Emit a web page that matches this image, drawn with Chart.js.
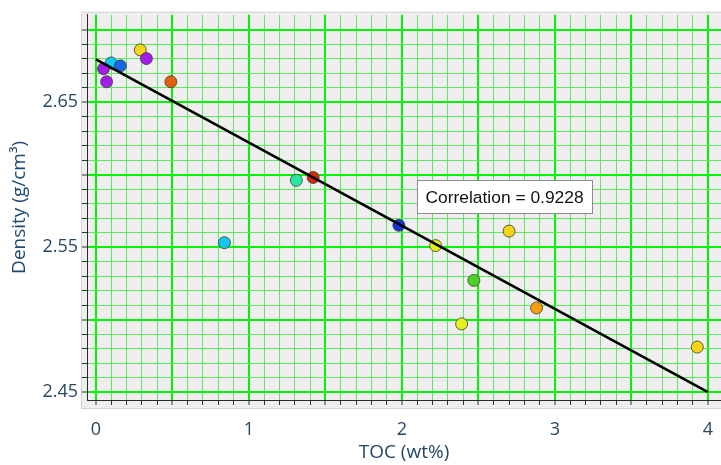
<!DOCTYPE html>
<html>
<head>
<meta charset="utf-8">
<script src="https://cdn.jsdelivr.net/npm/chart.js@4.4.1/dist/chart.umd.min.js"></script>
<style>
  html, body { margin: 0; padding: 0; background: #fff; }
</style>
</head>
<body>
<canvas id="densityChart" width="721" height="465"></canvas>
<script>
// Samples: TOC (wt%) vs bulk density (g/cm3)
const tocValues = [0.29, 0.33, 0.10, 0.16, 0.05, 0.07, 0.49, 1.31, 1.42, 0.84, 1.98, 2.22, 2.70, 2.47, 2.88, 2.39, 3.93];
const densityValues = [2.686, 2.680, 2.677, 2.675, 2.673, 2.664, 2.664, 2.596, 2.598, 2.553, 2.565, 2.551, 2.561, 2.527, 2.508, 2.497, 2.481];
const pointColors = ['#f7d512', '#a21ee8', '#12c4f0', '#1466e6', '#a21ee8', '#a21ee8', '#e2600e', '#26e8a0', '#d8260e',
  '#14c6f2', '#1434d8', '#e2ee1c', '#f8d214', '#4cd424', '#f5a012', '#e6f01e', '#f7d414'];

// Regression line end points
const fitToc = [0, 4];
const fitDensity = [2.6795, 2.45];
const correlation = 0.9228;

// Tick labels
const xTickLabels = [0, 1, 2, 3, 4];
const yTickLabels = [2.45, 2.55, 2.65];

const near = (a, b) => Math.abs(a - b) < 1e-6;
const isMajor = (v, step) => near(Math.round(v / step) * step, v);

const gridMajor = 'rgb(0, 245, 0)';
const gridMinor = 'rgb(90, 236, 90)';

// let the plot run right up to the canvas edge (the layout keeps a few px of label padding)
const fullRightPlugin = {
  id: 'fullRight',
  afterLayout(chart) {
    const area = chart.chartArea;
    area.right = chart.width;
    area.width = area.right - area.left;
    const x = chart.scales.x;
    x.right = chart.width;
    x.width = x.right - x.left;
    x.configure();
  }
};

// light grey panel behind the plot
const panelPlugin = {
  id: 'panel',
  beforeDraw(chart) {
    const { ctx, chartArea } = chart;
    ctx.save();
    ctx.fillStyle = '#f0eef1';
    ctx.fillRect(chartArea.left - 6, chartArea.top - 3, chart.width - chartArea.left + 6, chartArea.bottom - chartArea.top + 12);
    ctx.strokeStyle = '#d2d2d2';
    ctx.lineWidth = 1;
    ctx.strokeRect(chartArea.left - 5.5, chartArea.top - 2.5, chart.width - chartArea.left + 10, chartArea.bottom - chartArea.top + 11);
    ctx.restore();
  }
};

// correlation label box
const correlationPlugin = {
  id: 'correlationBox',
  afterDatasetsDraw(chart) {
    const { ctx, scales } = chart;
    const text = 'Correlation = ' + correlation.toFixed(4);
    const x = Math.round(scales.x.getPixelForValue(2.1)) + 0.5;
    const y = Math.round(scales.y.getPixelForValue(2.596)) + 0.5;
    ctx.save();
    ctx.font = '17.4px "Liberation Sans", Arial, sans-serif';
    const w = Math.round(ctx.measureText(text).width + 17);
    const h = 33;
    ctx.fillStyle = '#ffffff';
    ctx.fillRect(x, y, w, h);
    ctx.strokeStyle = '#8c8c8c';
    ctx.lineWidth = 1;
    ctx.strokeRect(x, y, w, h);
    ctx.fillStyle = '#111111';
    ctx.textBaseline = 'middle';
    ctx.fillText(text, x + 8, y + h / 2 + 1);
    ctx.restore();
  }
};

const makeTicks = (from, to, step) => {
  const out = [];
  for (let i = Math.round(from / step); i <= Math.round(to / step); i++) {
    out.push({ value: Math.round(i * step * 1000) / 1000 });
  }
  return out;
};

new Chart(document.getElementById('densityChart'), {
  type: 'scatter',
  data: {
    datasets: [
      {
        type: 'line',
        label: 'Fit',
        data: fitToc.map((x, i) => ({ x, y: fitDensity[i] })),
        borderColor: '#000000',
        borderWidth: 2.6,
        pointRadius: 0,
        fill: false,
      },
      {
        label: 'Samples',
        data: tocValues.map((x, i) => ({ x, y: densityValues[i] })),
        backgroundColor: pointColors,
        borderColor: 'rgba(60, 60, 50, 0.8)',
        borderWidth: 1,
        pointRadius: 6,
        pointHoverRadius: 6,
      },
    ],
  },
  options: {
    responsive: false,
    animation: false,
    layout: { padding: { left: 0, top: 12, right: 0, bottom: 0 } },
    plugins: {
      legend: { display: false },
      tooltip: { enabled: false },
    },
    scales: {
      x: {
        type: 'linear',
        min: -0.058,
        max: 4.085,
        afterBuildTicks: (scale) => { scale.ticks = makeTicks(0, 4, 0.1); },
        afterFit: (scale) => { scale.height = 65; },
        border: { display: true, color: '#2a2a2a', width: 1 },
        grid: {
          color: (c) => (c.tick && isMajor(c.tick.value, 0.5) ? gridMajor : gridMinor),
          lineWidth: (c) => (c.tick && isMajor(c.tick.value, 0.5) ? 2 : 1),
          tickColor: '#333333',
          tickLength: 5,
          tickWidth: 1,
        },
        ticks: {
          autoSkip: false,
          maxRotation: 0,
          padding: 0,
          color: '#264764',
          // tall line height pushes the labels down
          font: { family: '"Open Sans", sans-serif', size: 18, lineHeight: 2.72 },
          callback: (v) => (xTickLabels.some((t) => near(t, v)) ? String(Math.round(v)) : ''),
        },
        title: {
          display: true,
          text: 'TOC (wt%)',
          color: '#264764',
          font: { family: '"Open Sans", sans-serif', size: 19 },
          padding: { top: 0, bottom: 1 },
        },
      },
      y: {
        type: 'linear',
        min: 2.4445,
        max: 2.7102,
        afterBuildTicks: (scale) => { scale.ticks = makeTicks(2.45, 2.70, 0.01); },
        afterFit: (scale) => { scale.width = 87; },
        border: { display: true, color: '#2a2a2a', width: 1 },
        grid: {
          color: (c) => (c.tick && isMajor(c.tick.value, 0.05) ? gridMajor : gridMinor),
          lineWidth: (c) => (c.tick && isMajor(c.tick.value, 0.05) ? 2 : 1),
          tickColor: '#333333',
          tickLength: 5,
          tickWidth: 1,
        },
        ticks: {
          autoSkip: false,
          padding: 4,
          color: '#264764',
          font: { family: '"Open Sans", sans-serif', size: 18 },
          callback: (v) => (yTickLabels.some((t) => near(t, v)) ? v.toFixed(2) : ''),
        },
        title: {
          display: true,
          text: 'Density (g/cm\u00B3)',
          color: '#1f4a70',
          font: { family: '"Open Sans", sans-serif', size: 19 },
          padding: { top: 8, bottom: 0 },
        },
      },
    },
  },
  plugins: [fullRightPlugin, panelPlugin, correlationPlugin],
});
</script>
</body>
</html>
